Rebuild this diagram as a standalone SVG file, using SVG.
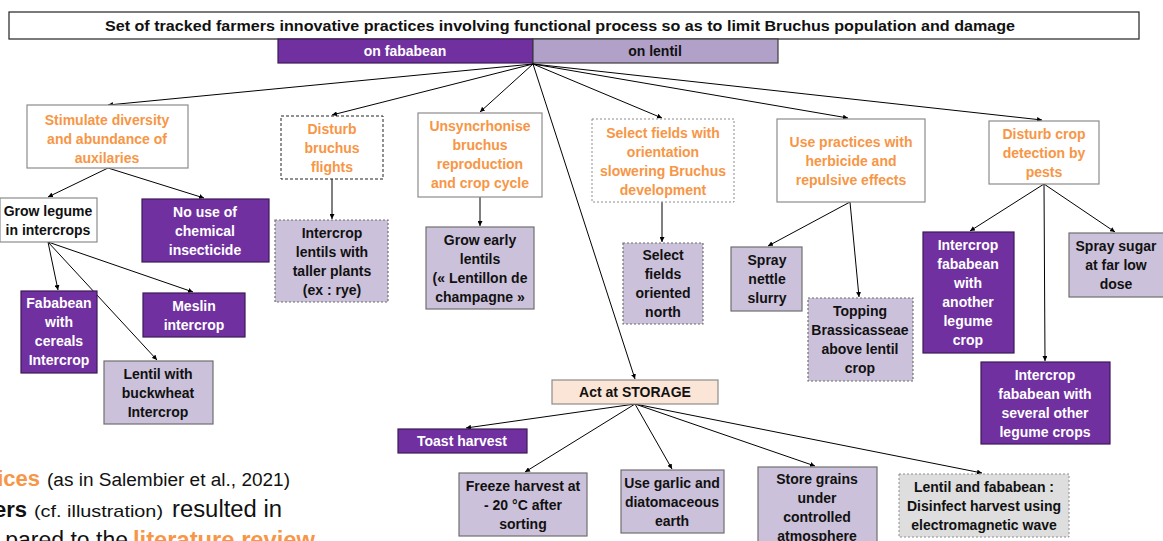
<svg xmlns="http://www.w3.org/2000/svg" width="1163" height="541" viewBox="0 0 1163 541">
<defs>
<marker id="ah" viewBox="0 0 6 6" refX="6" refY="3" markerWidth="5" markerHeight="5" markerUnits="userSpaceOnUse" orient="auto">
<path d="M0,0 L6,3 L0,6 z" fill="#000"/>
</marker>
<style>
text{font-family:"Liberation Sans",Arial,sans-serif;font-weight:bold;font-size:14px;text-anchor:middle}
.w{fill:#fff;stroke:#8c8c8c;stroke-width:1.2}
.p{fill:#7030A0;stroke:#3c1a58;stroke-width:1.2}
.l{fill:#CCC1DA;stroke:#6f6f6f;stroke-width:1.2}
.dash{stroke-dasharray:3 2}
.dot{stroke-dasharray:2 2}
.o{fill:#F79646}
.wt{fill:#fff}
.bk{fill:#111}
.c line{stroke:#000;stroke-width:1;marker-end:url(#ah)}
</style>
</defs>
<rect width="1163" height="541" fill="#fff"/>

<g id="title">
<rect x="9" y="12" width="1130" height="27" fill="#fff" stroke="#222" stroke-width="1.2"/>
<text x="560" y="31" class="bk" style="font-size:15px" textLength="910" lengthAdjust="spacingAndGlyphs">Set of tracked  farmers innovative practices involving functional process so as to limit Bruchus population and damage</text>
</g>
<g id="fababean">
<rect x="278" y="39" width="255" height="24" fill="#7030A0" stroke="#3c1a58" stroke-width="1.2"/>
<text x="405" y="56" class="wt">on fababean</text>
</g>
<g id="lentil">
<rect x="533" y="39" width="245" height="24" fill="#B1A0C7" stroke="#3c3c3c" stroke-width="1.2"/>
<text x="655" y="56" class="bk">on lentil</text>
</g>

<g class="c" id="connectors">
<line x1="533" y1="64" x2="108" y2="105"/>
<line x1="533" y1="64" x2="332" y2="115"/>
<line x1="533" y1="64" x2="480" y2="112"/>
<line x1="533" y1="64" x2="635" y2="379"/>
<line x1="533" y1="64" x2="662" y2="118"/>
<line x1="533" y1="64" x2="848" y2="118"/>
<line x1="533" y1="64" x2="1042" y2="120"/>
<line x1="108" y1="168" x2="48" y2="197"/>
<line x1="108" y1="168" x2="204" y2="198"/>
<line x1="48" y1="242" x2="58" y2="290"/>
<line x1="48" y1="242" x2="157" y2="360"/>
<line x1="48" y1="242" x2="193" y2="292"/>
<line x1="332" y1="179" x2="332" y2="219"/>
<line x1="480" y1="197" x2="480" y2="226"/>
<line x1="662" y1="202" x2="662" y2="242"/>
<line x1="850" y1="202" x2="768" y2="246"/>
<line x1="850" y1="202" x2="859" y2="297"/>
<line x1="1044" y1="184" x2="970" y2="231"/>
<line x1="1044" y1="184" x2="1115" y2="232"/>
<line x1="1044" y1="184" x2="1045" y2="361"/>
<line x1="635" y1="404" x2="466" y2="428"/>
<line x1="635" y1="404" x2="525" y2="472"/>
<line x1="635" y1="404" x2="672" y2="469"/>
<line x1="635" y1="404" x2="815" y2="466"/>
<line x1="635" y1="404" x2="982" y2="473"/>
</g>

<g id="stimulate">
<rect x="27" y="105" width="161" height="63" class="w"/>
<text class="o" x="107" y="125">Stimulate diversity</text>
<text class="o" x="107" y="144">and abundance of</text>
<text class="o" x="107" y="163">auxilaries</text>
</g>
<g id="disturb-flights">
<rect x="281" y="116" width="102" height="63" fill="#fff" stroke="#222" stroke-width="1" class="dash"/>
<text class="o" x="332" y="134">Disturb</text>
<text class="o" x="332" y="153">bruchus</text>
<text class="o" x="332" y="172">flights</text>
</g>
<g id="unsync">
<rect x="418" y="113" width="124" height="84" class="w"/>
<text class="o" x="480" y="131">Unsyncrhonise</text>
<text class="o" x="480" y="150">bruchus</text>
<text class="o" x="480" y="169">reproduction</text>
<text class="o" x="480" y="188">and crop cycle</text>
</g>
<g id="select-fields">
<rect x="592" y="119" width="142" height="83" fill="#fff" stroke="#8c8c8c" stroke-width="1" class="dot"/>
<text class="o" x="663" y="138">Select fields with</text>
<text class="o" x="663" y="157">orientation</text>
<text class="o" x="663" y="176">slowering Bruchus</text>
<text class="o" x="663" y="195">development</text>
</g>
<g id="use-practices">
<rect x="777" y="119" width="148" height="83" class="w"/>
<text class="o" x="851" y="147">Use practices with</text>
<text class="o" x="851" y="166">herbicide and</text>
<text class="o" x="851" y="185">repulsive effects</text>
</g>
<g id="disturb-crop">
<rect x="989" y="121" width="110" height="63" class="w"/>
<text class="o" x="1044" y="139">Disturb crop</text>
<text class="o" x="1044" y="158">detection by</text>
<text class="o" x="1044" y="177">pests</text>
</g>

<g id="grow-legume">
<rect x="0" y="198" width="97" height="44" fill="#fff" stroke="#8c8c8c" stroke-width="1.2"/>
<text class="bk" x="48" y="216">Grow legume</text>
<text class="bk" x="48" y="235">in intercrops</text>
</g>
<g id="no-insecticide">
<rect x="142" y="199" width="127" height="63" class="p"/>
<text class="wt" x="205" y="217">No use of</text>
<text class="wt" x="205" y="236">chemical</text>
<text class="wt" x="205" y="255">insecticide</text>
</g>
<g id="fababean-cereals">
<rect x="21" y="291" width="76" height="82" class="p"/>
<text class="wt" x="59" y="308">Fababean</text>
<text class="wt" x="59" y="327">with</text>
<text class="wt" x="59" y="346">cereals</text>
<text class="wt" x="59" y="365">Intercrop</text>
</g>
<g id="meslin">
<rect x="143" y="293" width="102" height="44" class="p"/>
<text class="wt" x="194" y="311">Meslin</text>
<text class="wt" x="194" y="330">intercrop</text>
</g>
<g id="lentil-buckwheat">
<rect x="104" y="361" width="109" height="63" class="l"/>
<text class="bk" x="158" y="379">Lentil with</text>
<text class="bk" x="158" y="398">buckwheat</text>
<text class="bk" x="158" y="417">Intercrop</text>
</g>
<g id="intercrop-taller">
<rect x="275" y="220" width="113" height="82" class="l dot"/>
<text class="bk" x="332" y="238">Intercrop</text>
<text class="bk" x="332" y="257">lentils with</text>
<text class="bk" x="332" y="276">taller plants</text>
<text class="bk" x="332" y="295">(ex : rye)</text>
</g>
<g id="grow-early">
<rect x="426" y="227" width="108" height="82" class="l"/>
<text class="bk" x="480" y="245">Grow early</text>
<text class="bk" x="480" y="264">lentils</text>
<text class="bk" x="480" y="283">(« Lentillon de</text>
<text class="bk" x="480" y="302">champagne »</text>
</g>
<g id="select-north">
<rect x="623" y="243" width="80" height="81" class="l dot"/>
<text class="bk" x="663" y="260">Select</text>
<text class="bk" x="663" y="279">fields</text>
<text class="bk" x="663" y="298">oriented</text>
<text class="bk" x="663" y="317">north</text>
</g>
<g id="spray-nettle">
<rect x="731" y="247" width="71" height="64" class="l"/>
<text class="bk" x="767" y="265">Spray</text>
<text class="bk" x="767" y="284">nettle</text>
<text class="bk" x="767" y="303">slurry</text>
</g>
<g id="topping">
<rect x="808" y="298" width="105" height="83" class="l dot"/>
<text class="bk" x="860" y="316">Topping</text>
<text class="bk" x="860" y="335">Brassicasseae</text>
<text class="bk" x="860" y="354">above lentil</text>
<text class="bk" x="860" y="373">crop</text>
</g>
<g id="intercrop-another">
<rect x="923" y="232" width="91" height="121" class="p"/>
<text class="wt" x="968" y="250">Intercrop</text>
<text class="wt" x="968" y="269">fababean</text>
<text class="wt" x="968" y="288">with</text>
<text class="wt" x="968" y="307">another</text>
<text class="wt" x="968" y="326">legume</text>
<text class="wt" x="968" y="345">crop</text>
</g>
<g id="spray-sugar">
<rect x="1069" y="233" width="96" height="64" class="l"/>
<text class="bk" x="1116" y="251">Spray sugar</text>
<text class="bk" x="1116" y="270">at far low</text>
<text class="bk" x="1116" y="289">dose</text>
</g>
<g id="intercrop-several">
<rect x="981" y="362" width="129" height="82" class="p"/>
<text class="wt" x="1045" y="380">Intercrop</text>
<text class="wt" x="1045" y="399">fababean with</text>
<text class="wt" x="1045" y="418">several other</text>
<text class="wt" x="1045" y="437">legume crops</text>
</g>

<g id="storage">
<rect x="552" y="380" width="166" height="24" fill="#FBE5D6" stroke="#8c8c8c" stroke-width="1.2"/>
<text class="bk" x="635" y="397">Act at STORAGE</text>
</g>
<g id="toast">
<rect x="398" y="429" width="129" height="24" class="p"/>
<text class="wt" x="462" y="446">Toast harvest</text>
</g>
<g id="freeze">
<rect x="459" y="473" width="128" height="63" class="l"/>
<text class="bk" x="523" y="491">Freeze harvest at</text>
<text class="bk" x="523" y="510">- 20 °C after</text>
<text class="bk" x="523" y="529">sorting</text>
</g>
<g id="garlic">
<rect x="621" y="470" width="103" height="63" class="l"/>
<text class="bk" x="672" y="488">Use garlic and</text>
<text class="bk" x="672" y="507">diatomaceous</text>
<text class="bk" x="672" y="526">earth</text>
</g>
<g id="store-grains">
<rect x="758" y="467" width="119" height="82" class="l"/>
<text class="bk" x="817" y="484">Store grains</text>
<text class="bk" x="817" y="503">under</text>
<text class="bk" x="817" y="522">controlled</text>
<text class="bk" x="817" y="541">atmosphere</text>
</g>
<g id="disinfect">
<rect x="899" y="474" width="170" height="63" fill="#DEDEDE" stroke="#8c8c8c" stroke-width="1" class="dot"/>
<text class="bk" x="984" y="492">Lentil and fababean :</text>
<text class="bk" x="984" y="511">Disinfect harvest using</text>
<text class="bk" x="984" y="530">electromagnetic wave</text>
</g>

<g id="slide-text" style="text-anchor:start">
<text x="40" y="486" style="text-anchor:end;font-size:22px;fill:#F79646">ices</text>
<text x="47" y="486" style="text-anchor:start;font-size:18px;font-weight:normal;fill:#111" textLength="243" lengthAdjust="spacingAndGlyphs">(as in Salembier et al., 2021)</text>
<text x="27" y="517" style="text-anchor:end;font-size:22px;fill:#111">ers</text>
<text x="34" y="517" style="text-anchor:start;font-size:17px;font-weight:normal;fill:#111" textLength="129" lengthAdjust="spacingAndGlyphs">(cf. illustration)</text>
<text x="172" y="517" style="text-anchor:start;font-size:23px;font-weight:normal;fill:#111" textLength="110" lengthAdjust="spacingAndGlyphs">resulted in</text>
<text x="128" y="548" style="text-anchor:end;font-size:23px;font-weight:normal;fill:#111">pared to the</text>
<text x="133" y="548" style="text-anchor:start;font-size:23px;fill:#F79646" textLength="182" lengthAdjust="spacingAndGlyphs">literature review</text>
</g>
</svg>
